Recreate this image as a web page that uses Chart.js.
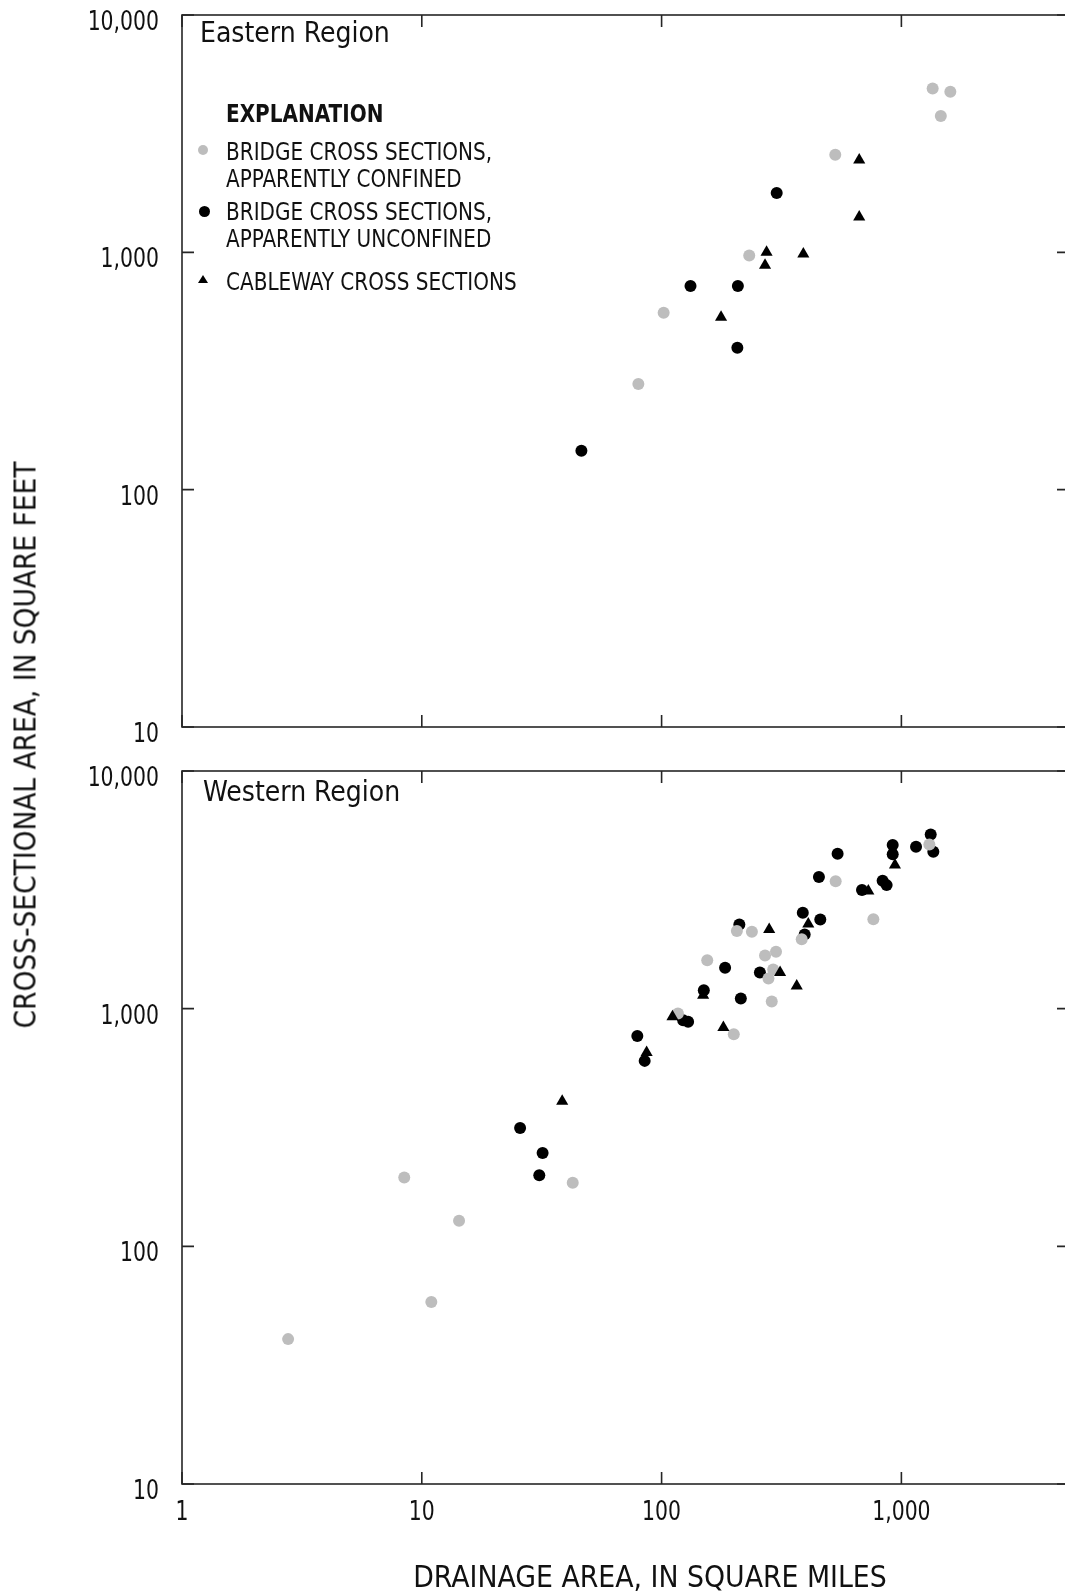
<!DOCTYPE html>
<html>
<head>
<meta charset="utf-8">
<script src="https://cdn.jsdelivr.net/npm/chart.js@4/dist/chart.umd.min.js"></script>
<style>
  html, body { margin:0; padding:0; background:#fff; overflow:hidden; }
  #wrap { position:relative; width:1065px; height:1593px; overflow:hidden; }
  #wrap canvas { position:absolute; left:0; }
  .txt { position:absolute; font-family:"Liberation Sans Narrow","DejaVu Sans Condensed",sans-serif; color:#111; white-space:nowrap; line-height:1; }
  .legend-row { position:absolute; left:226px; font-size:25px; line-height:27px; transform:scaleX(0.89); transform-origin:left top; }
  .mk { position:absolute; }
</style>
</head>
<body>
<div id="wrap">
  <canvas id="eastChart" width="1080" height="745" style="top:0"></canvas>
  <canvas id="westChart" width="1080" height="843" style="top:750px"></canvas>

  <div class="txt" style="left:200px;top:19px;font-size:28px">Eastern Region</div>
  <div class="txt" style="left:203px;top:778px;font-size:28px">Western Region</div>

  <div class="txt legend-row" style="top:100px;font-weight:bold">EXPLANATION</div>
  <div class="mk" style="left:198px;top:145px;width:10px;height:10px;border-radius:50%;background:#bdbdbd"></div>
  <div class="txt legend-row" style="top:138px">BRIDGE CROSS SECTIONS,<br>APPARENTLY CONFINED</div>
  <div class="mk" style="left:199px;top:206px;width:11px;height:11px;border-radius:50%;background:#000"></div>
  <div class="txt legend-row" style="top:198px">BRIDGE CROSS SECTIONS,<br>APPARENTLY UNCONFINED</div>
  <div class="mk" style="left:198px;top:275px;width:0;height:0;border-left:5px solid transparent;border-right:5px solid transparent;border-bottom:8px solid #000"></div>
  <div class="txt legend-row" style="top:268px">CABLEWAY CROSS SECTIONS</div>

  <div class="txt" style="left:25px;top:745px;font-size:31px;transform:translate(-50%,-50%) rotate(-90deg) scaleX(0.95)">CROSS-SECTIONAL AREA, IN SQUARE FEET</div>
  <div class="txt" style="left:650px;top:1576px;font-size:31px;transform:translate(-50%,-50%) scaleX(0.96)">DRAINAGE AREA, IN SQUARE MILES</div>
</div>
<script>
// tick values and labels
var xTicks = [1, 10, 100, 1000];
var xTickLabels = ['1', '10', '100', '1,000'];
var yTicks = [10, 100, 1000, 10000];
var yTickLabels = ['10', '100', '1,000', '10,000'];

// Eastern Region (drainage area, sq mi / cross-sectional area, sq ft)
var eastConfinedX   = [1350, 1600, 1460, 530, 232, 102, 80];
var eastConfinedY   = [4900, 4750, 3750, 2580, 970, 557, 279];
var eastUnconfinedX = [302, 132, 208, 207, 46.3];
var eastUnconfinedY = [1780, 722, 722, 396, 146];
var eastCablewayX   = [667, 667, 274, 390, 270, 177];
var eastCablewayY   = [2450, 1410, 1000, 985, 883, 533];

// Western Region
var westConfinedX   = [1308, 532, 764, 206, 238, 384, 300, 270, 155, 292, 279, 288, 117, 200, 42.6, 8.45, 14.3, 10.96, 2.77];
var westConfinedY   = [4910, 3440, 2380, 2120, 2105, 1960, 1735, 1675, 1600, 1460, 1340, 1072, 955, 781, 185, 195, 128, 58.3, 40.7];
var westUnconfinedX = [1325, 920, 1151, 1359, 920, 542, 453, 835, 868, 685, 388, 459, 211, 395, 184, 257, 150, 214, 123, 129, 79.2, 85, 25.7, 31.9, 30.9];
var westUnconfinedY = [5410, 4880, 4800, 4575, 4460, 4490, 3580, 3450, 3310, 3155, 2530, 2370, 2260, 2050, 1485, 1420, 1196, 1104, 894, 880, 768, 603, 315, 247, 199];
var westCablewayX   = [940, 728, 281, 409, 312, 366, 149, 111, 181, 86.6, 38.5];
var westCablewayY   = [4020, 3130, 2155, 2270, 1420, 1247, 1140, 924, 833, 654, 408];

var FONT = '"Liberation Sans Narrow", "DejaVu Sans Condensed", sans-serif';
var GRAY = '#bdbdbd';
var INK  = '#262626';

function pts(xs, ys) {
    return xs.map(function(x, i){ return { x: x, y: ys[i] }; });
}

// box around the plot with short inward ticks at each decade
var framePlugin = {
    id: 'frame',
    afterDraw: function(chart) {
        var a = chart.chartArea, ctx = chart.ctx;
        var sx = chart.scales.x, sy = chart.scales.y, len = 12;
        ctx.save();
        ctx.strokeStyle = INK;
        ctx.lineWidth = 1.6;
        ctx.strokeRect(a.left, a.top, a.right - a.left, a.bottom - a.top);
        ctx.beginPath();
        xTicks.forEach(function(v){
            var px = sx.getPixelForValue(v);
            ctx.moveTo(px, a.bottom); ctx.lineTo(px, a.bottom - len);
            ctx.moveTo(px, a.top);    ctx.lineTo(px, a.top + len);
        });
        yTicks.forEach(function(v){
            var py = sy.getPixelForValue(v);
            ctx.moveTo(a.left, py);  ctx.lineTo(a.left + len, py);
            ctx.moveTo(a.right, py); ctx.lineTo(a.right - len, py);
        });
        ctx.stroke();

        // tick labels, condensed a bit to look like the narrow map font
        ctx.fillStyle = '#111';
        ctx.font = '27px ' + FONT;
        ctx.textBaseline = 'alphabetic';
        ctx.textAlign = 'right';
        yTicks.forEach(function(v, i){
            var py = sy.getPixelForValue(v);
            ctx.save();
            ctx.translate(a.left - 23, py + 15);
            ctx.scale(0.84, 1);
            ctx.fillText(yTickLabels[i], 0, 0);
            ctx.restore();
        });
        if (chart.options.showXLabels) {
            ctx.textAlign = 'center';
            xTicks.forEach(function(v, i){
                var px = sx.getPixelForValue(v);
                ctx.save();
                ctx.translate(px, a.bottom + 36);
                ctx.scale(0.84, 1);
                ctx.fillText(xTickLabels[i], 0, 0);
                ctx.restore();
            });
        }
        ctx.restore();
    }
};

function makeChart(id, conf, unconf, cable, opts) {
    return new Chart(document.getElementById(id), {
        type: 'scatter',
        data: { datasets: [
            { data: cable,  pointStyle: 'triangle', pointRadius: 7, backgroundColor: '#000', borderWidth: 0, order: 0 },
            { data: conf,   pointStyle: 'circle',   pointRadius: 6, backgroundColor: GRAY,   borderWidth: 0, order: 1 },
            { data: unconf, pointStyle: 'circle',   pointRadius: 6, backgroundColor: '#000', borderWidth: 0, order: 2 }
        ] },
        options: {
            responsive: false, animation: false,
            showXLabels: opts.xLabels,
            layout: { padding: { top: opts.top, right: 11, left: 0, bottom: 0 } },
            plugins: { legend: { display: false }, tooltip: { enabled: false } },
            elements: { point: { hoverRadius: 6 } },
            scales: {
                x: {
                    type: 'logarithmic', min: 1, max: 5000,
                    border: { display: false },
                    grid: { display: false, drawTicks: false },
                    ticks: { display: false },
                    afterFit: function(s){ s.height = opts.xHeight; s.paddingLeft = 0; s.paddingRight = 0; }
                },
                y: {
                    type: 'logarithmic', min: 10, max: 10000,
                    border: { display: false },
                    grid: { display: false, drawTicks: false },
                    ticks: { display: false },
                    afterFit: function(s){ s.width = 182; s.paddingTop = 0; s.paddingBottom = 0; }
                }
            }
        },
        plugins: [framePlugin]
    });
}

makeChart('eastChart',
    pts(eastConfinedX, eastConfinedY), pts(eastUnconfinedX, eastUnconfinedY), pts(eastCablewayX, eastCablewayY),
    { top: 15, xHeight: 18, xLabels: false });
makeChart('westChart',
    pts(westConfinedX, westConfinedY), pts(westUnconfinedX, westUnconfinedY), pts(westCablewayX, westCablewayY),
    { top: 21, xHeight: 109, xLabels: true });
</script>
</body>
</html>
